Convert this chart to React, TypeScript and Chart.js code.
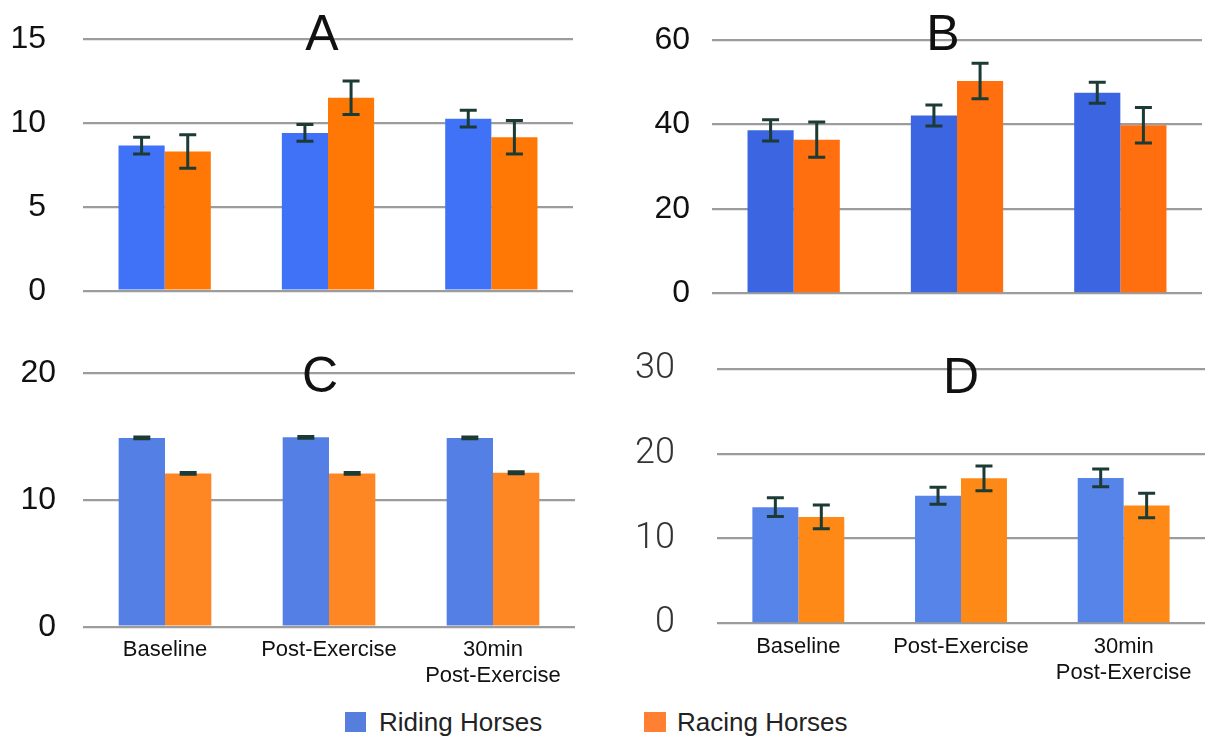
import React, { useEffect, useRef } from "react";
import { Chart, registerables } from "chart.js";
Chart.register(...registerables);

// ---------- data ----------
const categories: (string | string[])[] = ["Baseline", "Post-Exercise", ["30min", "Post-Exercise"]];
const seriesNames = ["Riding Horses", "Racing Horses"];

const ridingA = [8.65, 9.4, 10.25];
const ridingAErr = [0.5, 0.5, 0.5];
const racingA = [8.3, 11.5, 9.15];
const racingAErr = [1.0, 1.0, 1.0];

const ridingB = [38.6, 42.1, 47.5];
const ridingBErr = [2.5, 2.5, 2.5];
const racingB = [36.4, 50.3, 39.8];
const racingBErr = [4.2, 4.2, 4.2];

const ridingC = [14.9, 14.95, 14.9];
const ridingCErr = [0.07, 0.07, 0.07];
const racingC = [12.1, 12.1, 12.15];
const racingCErr = [0.07, 0.07, 0.07];

const ridingD = [13.7, 15.05, 17.15];
const ridingDErr = [1.1, 1.0, 1.05];
const racingD = [12.55, 17.1, 13.9];
const racingDErr = [1.4, 1.45, 1.45];

const panelTitles = ["A", "B", "C", "D"];
const yMax = [15, 60, 20, 30];
const yStep = [5, 20, 10, 10];

// ---------- plugins ----------
const errorBarPlugin = {
  id: "errorBars",
  afterDatasetsDraw(chart: any) {
    const ctx = chart.ctx;
    const yScale = chart.scales.y;
    chart.data.datasets.forEach((ds: any, i: number) => {
      const meta = chart.getDatasetMeta(i);
      meta.data.forEach((el: any, j: number) => {
        const v = ds.data[j];
        const e = ds.errors[j];
        const yt = yScale.getPixelForValue(v + e);
        const yb = yScale.getPixelForValue(v - e);
        ctx.save();
        ctx.strokeStyle = "#1d3b35";
        ctx.lineWidth = 3;
        ctx.beginPath();
        ctx.moveTo(el.x, yt);
        ctx.lineTo(el.x, yb);
        ctx.moveTo(el.x - 8.5, yt);
        ctx.lineTo(el.x + 8.5, yt);
        ctx.moveTo(el.x - 8.5, yb);
        ctx.lineTo(el.x + 8.5, yb);
        ctx.stroke();
        ctx.restore();
      });
    });
  },
};

const panelTitlePlugin = {
  id: "panelTitle",
  afterDraw(chart: any, _args: any, opts: any) {
    const ctx = chart.ctx;
    const a = chart.chartArea;
    ctx.save();
    ctx.font = "50px 'Liberation Sans', Arial, sans-serif";
    ctx.fillStyle = "#111";
    ctx.textAlign = "center";
    ctx.textBaseline = "alphabetic";
    ctx.fillText(opts.text, (a.left + a.right) / 2 + opts.dx, opts.baseline);
    ctx.restore();
  },
};

type Panel = {
  title: string;
  riding: number[];
  ridingErr: number[];
  racing: number[];
  racingErr: number[];
  max: number;
  step: number;
  left: number;
  top: number;
  width: number;
  height: number;
  plotLeft: number;
  plotTop: number;
  plotRight: number;
  plotBottom: number;
  tickPad: number;
  tickFont: any;
  tickColor: string;
  showX: boolean;
  blue: string;
  orange: string;
  titleDx: number;
  titleBaseline: number;
};

const panels: Panel[] = [
  {
    title: panelTitles[0], riding: ridingA, ridingErr: ridingAErr, racing: racingA, racingErr: racingAErr,
    max: yMax[0], step: yStep[0],
    left: 0, top: 0, width: 600, height: 320,
    plotLeft: 83, plotTop: 39, plotRight: 573, plotBottom: 290.7,
    tickPad: 37, tickFont: { family: "'Liberation Sans', Arial, sans-serif", size: 32 }, tickColor: "#111",
    showX: false, blue: "rgb(64,114,248)", orange: "rgb(255,120,5)", titleDx: -6, titleBaseline: 50,
  },
  {
    title: panelTitles[1], riding: ridingB, ridingErr: ridingBErr, racing: racingB, racingErr: racingBErr,
    max: yMax[1], step: yStep[1],
    left: 605, top: 0, width: 600, height: 320,
    plotLeft: 712, plotTop: 40, plotRight: 1202, plotBottom: 293.3,
    tickPad: 22, tickFont: { family: "'Liberation Sans', Arial, sans-serif", size: 32 }, tickColor: "#111",
    showX: false, blue: "rgb(60,101,225)", orange: "rgb(255,110,15)", titleDx: -14, titleBaseline: 50,
  },
  {
    title: panelTitles[2], riding: ridingC, ridingErr: ridingCErr, racing: racingC, racingErr: racingCErr,
    max: yMax[2], step: yStep[2],
    left: 0, top: 330, width: 600, height: 370,
    plotLeft: 83, plotTop: 373.3, plotRight: 575, plotBottom: 626.7,
    tickPad: 27, tickFont: { family: "'Liberation Sans', Arial, sans-serif", size: 32 }, tickColor: "#111",
    showX: true, blue: "rgb(84,128,230)", orange: "rgb(255,135,35)", titleDx: -9, titleBaseline: 392,
  },
  {
    title: panelTitles[3], riding: ridingD, ridingErr: ridingDErr, racing: racingD, racingErr: racingDErr,
    max: yMax[3], step: yStep[3],
    left: 605, top: 330, width: 600, height: 370,
    plotLeft: 717, plotTop: 369, plotRight: 1205, plotBottom: 623.3,
    tickPad: 42, tickFont: { family: "Roboto, sans-serif", size: 36, weight: "300" }, tickColor: "#333",
    showX: true, blue: "rgb(86,132,232)", orange: "rgb(255,137,22)", titleDx: 0, titleBaseline: 393,
  },
];

function PanelChart({ p }: { p: Panel }) {
  const ref = useRef<HTMLCanvasElement>(null);
  useEffect(() => {
    if (!ref.current) return;
    const chart = new Chart(ref.current, {
      type: "bar",
      data: {
        labels: categories as any,
        datasets: [
          { label: seriesNames[0], data: p.riding, errors: p.ridingErr, backgroundColor: p.blue, borderWidth: 0 } as any,
          { label: seriesNames[1], data: p.racing, errors: p.racingErr, backgroundColor: p.orange, borderWidth: 0 } as any,
        ],
      },
      options: {
        responsive: false,
        animation: false,
        devicePixelRatio: 1,
        datasets: { bar: { barPercentage: 1, categoryPercentage: 0.565 } },
        layout: {
          padding: {
            top: p.plotTop - p.top,
            right: p.left + p.width - p.plotRight,
            left: 0,
            bottom: 0,
          },
        },
        plugins: {
          legend: { display: false },
          tooltip: { enabled: false },
          title: { display: false },
          panelTitle: { text: p.title, dx: p.titleDx, baseline: p.titleBaseline - p.top },
        } as any,
        scales: {
          x: {
            grid: { display: false, drawTicks: false },
            border: { display: false },
            ticks: {
              display: p.showX,
              padding: 10,
              maxRotation: 0,
              autoSkip: false,
              color: "#111",
              font: { family: "'Liberation Sans', Arial, sans-serif", size: 22 },
            },
            afterFit: (s: any) => {
              s.height = p.top + p.height - p.plotBottom;
            },
          },
          y: {
            min: 0,
            max: p.max,
            grid: {
              color: "#9c9c9c",
              lineWidth: 2.2,
              drawTicks: true,
              tickLength: p.tickPad,
              tickColor: "rgba(0,0,0,0)",
            },
            border: { display: false },
            ticks: {
              stepSize: p.step,
              padding: 0,
              color: p.tickColor,
              font: p.tickFont,
            },
            afterFit: (s: any) => {
              s.width = p.plotLeft - p.left;
            },
          },
        },
      },
      plugins: [errorBarPlugin, panelTitlePlugin],
    });
    return () => chart.destroy();
  }, []);
  return (
    <canvas
      ref={ref}
      width={p.width}
      height={p.height}
      style={{ position: "absolute", left: p.left, top: p.top, width: p.width, height: p.height }}
    />
  );
}

const legendColors = ["rgb(86,126,220)", "rgb(255,128,50)"];

export default function App() {
  return (
    <div style={{ position: "absolute", left: 0, top: 0, width: 1205, height: 737, background: "#fff", overflow: "hidden" }}>
      {panels.map((p, i) => (
        <PanelChart key={i} p={p} />
      ))}
      <div style={{ position: "absolute", left: 345, top: 712, width: 21, height: 20, background: legendColors[0] }} />
      <div
        style={{
          position: "absolute", left: 379, top: 709, fontFamily: "'Liberation Sans', Arial, sans-serif",
          fontSize: 26, lineHeight: "26px", color: "#222", whiteSpace: "nowrap",
        }}
      >
        {seriesNames[0]}
      </div>
      <div style={{ position: "absolute", left: 644, top: 712, width: 22, height: 20, background: legendColors[1] }} />
      <div
        style={{
          position: "absolute", left: 677, top: 709, fontFamily: "'Liberation Sans', Arial, sans-serif",
          fontSize: 26, lineHeight: "26px", color: "#222", whiteSpace: "nowrap",
        }}
      >
        {seriesNames[1]}
      </div>
    </div>
  );
}
